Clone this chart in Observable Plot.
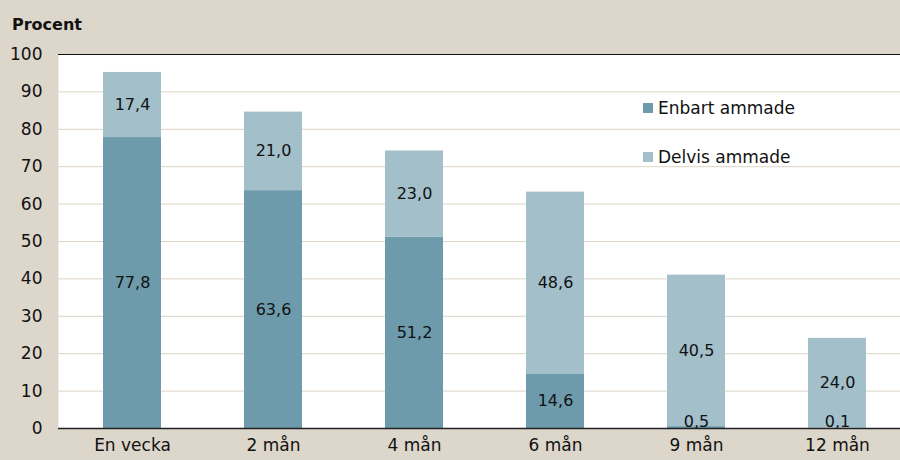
<!DOCTYPE html>
<html><head><meta charset="utf-8">
<script src="https://cdn.jsdelivr.net/npm/d3@7"></script>
<script src="https://cdn.jsdelivr.net/npm/@observablehq/plot@0.6"></script>
<style>
html,body{margin:0;padding:0;background:#ddd6cb;}
#wrap{position:relative;width:900px;height:460px;font-family:"DejaVu Sans",sans-serif;overflow:hidden;}
#title{position:absolute;left:12px;top:15px;font-weight:bold;font-size:16px;color:#111;}
.leg{position:absolute;font-size:17px;color:#111;display:flex;align-items:center;}
.sw{width:10px;height:10px;margin-right:5px;display:inline-block;}
</style></head>
<body><div id="wrap"><div id="title">Procent</div>
<div class="leg" style="left:643px;top:98px"><span class="sw" style="background:#6d9bac"></span>Enbart ammade</div>
<div class="leg" style="left:643px;top:147px"><span class="sw" style="background:#a2bfca"></span>Delvis ammade</div>
</div>
<script>
const categories = ["En vecka","2 mån","4 mån","6 mån","9 mån","12 mån"];
const enbart = [77.8, 63.6, 51.2, 14.6, 0.5, 0.1];
const delvis = [17.4, 21.0, 23.0, 48.6, 40.5, 24.0];
const series = ["Enbart ammade","Delvis ammade"];
const colors = ["#6d9bac","#a2bfca"];
const yTicks = [0,10,20,30,40,50,60,70,80,90,100];

const rows = [];
categories.forEach((c,i)=>{
  rows.push({cat:c, s:series[0], v:enbart[i], y1:0, y2:enbart[i]});
  rows.push({cat:c, s:series[1], v:delvis[i], y1:enbart[i], y2:enbart[i]+delvis[i]});
});
const fmt = v => v.toFixed(1).replace(".", ",");
const big = rows.filter(d=>d.v>=3), small = rows.filter(d=>d.v<3);

const chart = Plot.plot({
  width:900, height:460,
  marginLeft:58, marginRight:0, marginTop:54, marginBottom:32,
  style:{background:"transparent", fontFamily:"DejaVu Sans, sans-serif", fontSize:"17px", color:"#111", overflow:"hidden"},
  x:{domain:categories, range:[58,910], paddingInner:0.59, paddingOuter:0.3, label:null, tickSize:0, tickPadding:10},
  y:{domain:[0,100], ticks:yTicks, label:null, tickSize:0, tickPadding:16},
  color:{domain:series, range:colors},
  marks:[
    Plot.frame({fill:"white"}),
    Plot.gridY(yTicks, {stroke:"#ddd3c6", strokeOpacity:1}),
    Plot.rectY(rows, {x:"cat", y1:"y1", y2:"y2", fill:"s"}),
    Plot.text(big, {x:"cat", y:d=>(d.y1+d.y2)/2, text:d=>fmt(d.v), fontSize:16, fill:"#111"}),
    Plot.text(small, {x:"cat", y:0, text:d=>fmt(d.v), fontSize:16, fill:"#111", lineAnchor:"bottom", dy:-2}),
    Plot.ruleX([0], {frameAnchor:"left", stroke:"#111"}),
    Plot.ruleY([100], {stroke:"#111"}),
    Plot.ruleY([0], {stroke:"#222", strokeWidth:1.5})
  ]
});
document.getElementById("wrap").appendChild(chart);
chart.style.position="absolute"; chart.style.left="0"; chart.style.top="0";
document.getElementById("title").style.zIndex=2;
document.querySelectorAll(".leg").forEach(e=>e.style.zIndex=2);
</script></body></html>
